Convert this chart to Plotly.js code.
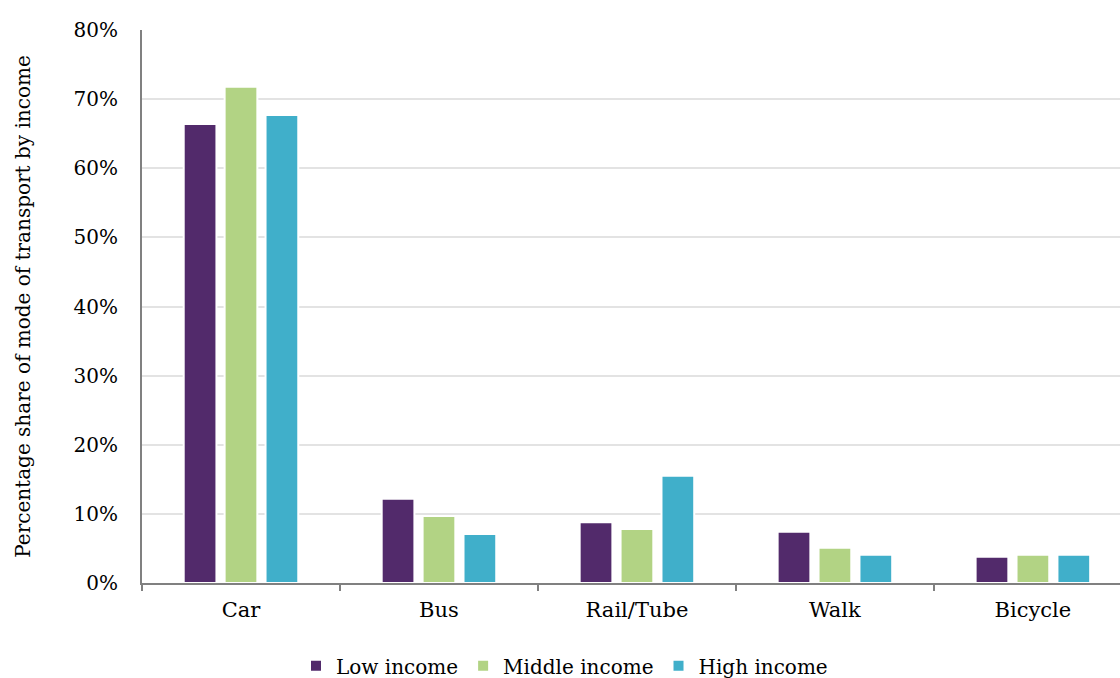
<!DOCTYPE html>
<html>
<head>
<meta charset="utf-8">
<script src="https://cdn.plot.ly/plotly-3.0.1.min.js"></script>
<style>html,body{margin:0;padding:0;background:#fff;}#chart{width:1120px;height:678px;}</style>
</head>
<body>
<div id="chart"></div>
<script>
const categories = ["Car", "Bus", "Rail/Tube", "Walk", "Bicycle"];
const lowIncome = [66.4, 12.2, 8.8, 7.4, 3.8];
const middleIncome = [71.8, 9.7, 7.8, 5.1, 4.1];
const highIncome = [67.7, 7.1, 15.5, 4.1, 4.1];
const seriesNames = ["Low income", "Middle income", "High income"];
const yTickVals = [0, 10, 20, 30, 40, 50, 60, 70, 80];
const yTickText = ["0%", "10%", "20%", "30%", "40%", "50%", "60%", "70%", "80%"];

const colors = ["#522A6B", "#B2D384", "#40AFCA"];
const seriesData = [lowIncome, middleIncome, highIncome];
const traces = seriesData.map((vals, i) => ({
  type: "bar",
  name: seriesNames[i],
  x: categories,
  y: vals,
  marker: {color: colors[i], line: {color: "#ffffff", width: 2}},
  hoverinfo: "skip"
}));

const font = "DejaVu Serif, Liberation Serif, serif";
const layout = {
  width: 1120,
  height: 678,
  margin: {l: 142, r: 0, t: 30, b: 95},
  paper_bgcolor: "#ffffff",
  plot_bgcolor: "#ffffff",
  barmode: "group",
  bargap: 0.38,
  bargroupgap: 0.2,
  font: {family: font, color: "#000000", size: 19},
  xaxis: {
    type: "category",
    range: [-0.5, 4.44],
    automargin: false,
    showgrid: false,
    showline: true,
    linecolor: "#808080",
    linewidth: 2,
    ticks: "outside",
    tickson: "boundaries",
    ticklen: 6,
    tickwidth: 2,
    tickcolor: "#808080",
    ticklabelstandoff: 7,
    tickfont: {family: font, size: 21, color: "#000"},
    zeroline: false,
    fixedrange: true
  },
  yaxis: {
    range: [0, 80],
    automargin: false,
    tickvals: yTickVals,
    ticktext: yTickText,
    showgrid: true,
    gridcolor: "#E3E3E3",
    gridwidth: 2,
    showline: true,
    linecolor: "#808080",
    linewidth: 2,
    zeroline: false,
    ticks: "",
    ticklabelstandoff: 18,
    tickfont: {family: font, size: 20, color: "#000"},
    title: {text: "Percentage share of mode of transport by income", font: {family: font, size: 20, color: "#000"}, standoff: 38},
    fixedrange: true
  },
  showlegend: true,
  legend: {
    orientation: "h",
    x: 0.432,
    xanchor: "center",
    yref: "container",
    y: 0.018,
    yanchor: "middle",
    font: {family: font, size: 20, color: "#000"},
    itemwidth: 30,
    traceorder: "normal"
  }
};

Plotly.newPlot("chart", traces, layout, {staticPlot: true, displayModeBar: false});
</script>
</body>
</html>
